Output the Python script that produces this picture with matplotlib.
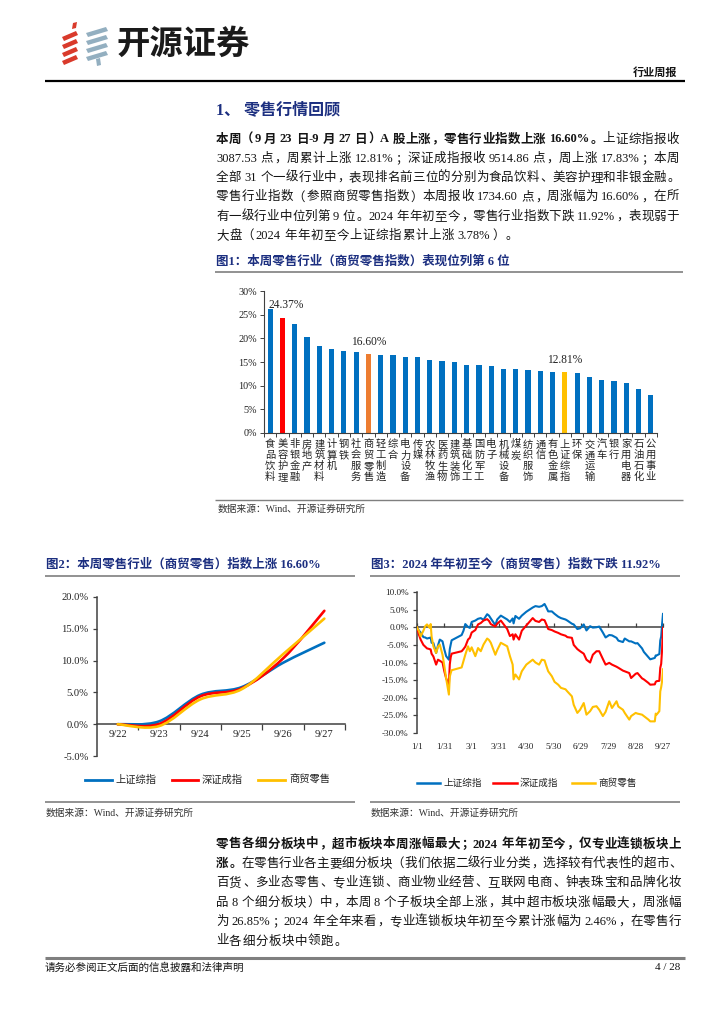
import matplotlib
matplotlib.use("Agg")
import matplotlib.pyplot as plt
from matplotlib.path import Path
from matplotlib.patches import PathPatch, Polygon
from matplotlib.lines import Line2D
import matplotlib.transforms as mtransforms
import numpy as np
import pandas as pd

# ---------------- data ----------------
cats1 = ['食品饮料', '美容护理', '非银金融', '房地产', '建筑材料', '计算机', '钢铁', '社会服务',
         '商贸零售', '轻工制造', '综合', '电力设备', '传媒', '农林牧渔', '医药生物', '建筑装饰',
         '基础化工', '国防军工', '电子', '机械设备', '煤炭', '纺织服饰', '通信', '有色金属',
         '上证综指', '环保', '交通运输', '汽车', '银行', '家用电器', '石油石化', '公用事业']
vals1 = [26.2, 24.37, 23.1, 20.2, 18.5, 17.8, 17.3, 17.2,
         16.60, 16.5, 16.4, 16.1, 16.0, 15.35, 15.3, 15.0,
         14.4, 14.3, 14.15, 13.6, 13.45, 13.4, 13.1, 12.95,
         12.81, 12.7, 11.8, 11.1, 11.0, 10.5, 9.3, 8.0]
highlight1 = {'美容护理': '#FF0000', '商贸零售': '#ED7D31', '上证综指': '#FFC000'}
labelled1 = ['美容护理', '商贸零售', '上证综指']

days2 = ['9/22', '9/23', '9/24', '9/25', '9/26', '9/27']
sh2 = [0.0, 0.44, 4.62, 5.83, 9.65, 12.81]
sz2 = [0.0, 0.02, 4.38, 5.64, 10.33, 17.83]
re2 = [0.0, -0.30, 3.90, 5.50, 11.00, 16.60]

dates3 = ['01-01', '01-03', '01-05', '01-08', '01-10', '01-12', '01-15', '01-16', '01-17', '01-19',
          '01-22', '01-24', '01-26', '01-29', '01-31', '02-02', '02-05', '02-06', '02-07', '02-08',
          '02-19', '02-21', '02-23', '02-26', '02-28', '03-01', '03-05', '03-08', '03-11', '03-14',
          '03-18', '03-20', '03-22', '03-27', '03-29', '04-02', '04-09', '04-12', '04-15', '04-16',
          '04-18', '04-22', '04-25', '04-30', '05-07', '05-10', '05-14', '05-17', '05-20', '05-22',
          '05-24', '05-28', '05-31', '06-04', '06-07', '06-12', '06-14', '06-19', '06-21', '06-25',
          '06-28', '07-02', '07-05', '07-09', '07-12', '07-16', '07-19', '07-23', '07-26', '07-30',
          '08-02', '08-07', '08-09', '08-14', '08-16', '08-21', '08-23', '08-28', '08-30', '09-04',
          '09-06', '09-11', '09-13', '09-18', '09-19', '09-20', '09-23', '09-24', '09-25', '09-26',
          '09-27']
sh3 = [0.0, -0.9, -1.5, -2.8, -2.9, -3.2, -3.0, -2.9, -4.4, -4.5,
       -7.3, -5.2, -3.5, -4.0, -6.3, -8.2, -9.2, -6.2, -4.9, -3.7,
       -2.2, -1.0, 0.9, 0.1, -0.2, 1.5, 1.9, 2.4, 2.6, 2.1,
       3.7, 3.3, 2.5, 0.6, 2.2, 3.3, 2.2, 1.5, 2.5, 1.1,
       3.2, 2.4, 3.3, 4.4, 5.6, 6.0, 5.8, 6.0, 6.6, 5.6,
       4.5, 4.5, 3.8, 3.0, 2.6, 2.2, 1.9, 1.0, 0.8, -0.5,
       -0.3, 0.8, -0.9, 0.3, -0.1, 0.0, 0.2, -1.5, -2.9, -2.2,
       -2.3, -3.0, -3.8, -4.2, -3.2, -4.0, -4.0, -4.6, -4.5, -6.0,
       -7.0, -8.5, -9.1, -8.7, -8.0, -8.0, -7.6, -3.75, -2.65, 0.87,
       3.78]
sz3 = [0.0, -2.0, -3.5, -5.0, -5.5, -6.0, -6.2, -6.3, -7.5, -8.3,
       -10.6, -9.2, -9.5, -10.0, -12.5, -14.5, -16.3, -10.5, -8.5, -7.5,
       -6.8, -6.2, -5.5, -3.5, -3.0, -1.5, -0.8, 0.8, 1.2, 1.9,
       2.3, 1.8, 0.9, 0.2, 1.0, 1.9, -0.5, -2.5, -2.0, -3.5,
       -2.0, -3.5, -1.0, 0.5, 2.6, 1.8, 1.5, 2.2, 2.0, 0.8,
       -0.5, -0.8, -1.2, -1.6, -2.0, -2.4, -2.8, -3.0, -5.0, -6.2,
       -6.8, -7.5, -9.2, -10.0, -7.8, -6.8, -6.8, -9.0, -10.6, -10.1,
       -10.6, -11.2, -11.5, -12.3, -12.5, -13.0, -14.4, -13.2, -13.0, -14.5,
       -14.8, -15.8, -16.3, -16.2, -15.5, -15.3, -15.2, -11.5, -10.4, -6.4,
       -0.1]
re3 = [0.0, -1.0, -2.6, -1.0, 0.3, 0.8, -0.2, 0.9, -2.6, -5.4,
       -7.3, -5.5, -4.9, -7.8, -11.0, -14.5, -19.1, -14.0, -13.0, -12.2,
       -11.4, -9.6, -7.8, -5.4, -6.8, -5.7, -8.2, -5.9, -6.8, -4.9,
       -3.2, -3.6, -4.4, -7.8, -6.5, -4.4, -5.4, -8.2, -10.6, -14.8,
       -13.4, -14.8, -12.5, -10.6, -9.2, -10.0, -10.6, -9.2, -9.4, -11.0,
       -12.5, -13.9, -15.5, -16.3, -17.2, -17.6, -18.2, -19.6, -22.0, -24.3,
       -23.4, -21.5, -24.8, -23.8, -22.6, -22.4, -23.4, -25.2, -24.0, -21.0,
       -22.9, -21.0, -22.5, -23.4, -24.3, -26.2, -25.2, -24.3, -24.5, -24.8,
       -25.2, -26.2, -26.7, -26.7, -24.5, -24.8, -23.8, -18.2, -17.0, -15.3,
       -11.92]
series_names = ['上证综指', '深证成指', '商贸零售']
series_colors = ['#0070C0', '#FF0000', '#FFC000']

# ---------------- page setup ----------------
W, H = 724, 1024
plt.rcParams['font.family'] = ['Liberation Serif', 'Noto Sans CJK SC']
fig = plt.figure(figsize=(7.24, 10.24), dpi=100)
renderer = fig.canvas.get_renderer()
SERIF = ['Liberation Serif', 'Noto Sans CJK SC']
CJKF = ['Noto Sans CJK SC', 'Liberation Serif']
NAVY = '#1c2f80'
TXT = '#141414'


def fx(x):
    return x / W


def fy(y):
    return 1 - y / H


def ax_px(l, t, r, b):
    return fig.add_axes([l / W, 1 - b / H, (r - l) / W, (b - t) / H])


def hline(x0, x1, y, lw, color):
    fig.add_artist(Line2D([fx(x0), fx(x1)], [fy(y), fy(y)], transform=fig.transFigure,
                          lw=lw, color=color, solid_capstyle='butt'))


def ftext(x, y, s, **kw):
    return fig.text(fx(x), fy(y), s, **kw)


def tokenize(s):
    toks, buf, buf_sp, sp = [], '', False, False
    for ch in s:
        if ch == ' ':
            if buf:
                toks.append((buf, buf_sp))
                buf = ''
            sp = True
        elif ord(ch) >= 0x2E80:
            if buf:
                toks.append((buf, buf_sp))
                buf = ''
            toks.append((ch, sp))
            sp = False
        else:
            if not buf:
                buf_sp = sp
                sp = False
            buf += ch
    if buf:
        toks.append((buf, buf_sp))
    return toks


def latin_width(s, size, weight):
    t = fig.text(0, 0, s, fontsize=size, family=SERIF, weight=weight)
    w = t.get_window_extent(renderer).width
    t.remove()
    return w + 0.6


LEFT_P = set('，。、；：）」！？')
RIGHT_P = set('（「')


def draw_line(segs, y, x0, x1, size=9, justify=True, color=TXT):
    em = size * 100 / 72
    items = []
    for text, bold in segs:
        for tok, sp in tokenize(text):
            cjk = ord(tok[0]) >= 0x2E80
            w = em if cjk else latin_width(tok, size, 'bold' if bold else 'normal')
            items.append((tok, sp, cjk, bold, w))
    spw = 0.22 * em
    total = sum(it[4] for it in items) + spw * sum(1 for k, it in enumerate(items) if it[1] and k > 0)
    n = len(items)
    gap = (x1 - x0 - total) / (n - 1) if (justify and n > 1) else 0.6
    x = x0
    base = y + 0.36 * em
    for k, (tok, sp, cjk, bold, w) in enumerate(items):
        if sp and k > 0:
            x += spw
        wt = 'bold' if bold else 'normal'
        if cjk:
            if tok in LEFT_P:
                ftext(x + 0.08 * em, base, tok, fontsize=size, family=CJKF, weight=wt,
                      ha='left', va='baseline', color=color)
            elif tok in RIGHT_P:
                ftext(x + 0.92 * em, base, tok, fontsize=size, family=CJKF, weight=wt,
                      ha='right', va='baseline', color=color)
            else:
                ftext(x + 0.5 * em, base, tok, fontsize=size, family=CJKF, weight=wt,
                      ha='center', va='baseline', color=color)
        else:
            ftext(x, base, tok, fontsize=size, family=SERIF, weight=wt,
                  ha='left', va='baseline', color=color)
        x += w + gap


# ---------------- logo & header ----------------
def poly(pts, color):
    fig.add_artist(Polygon([(fx(a), fy(b)) for a, b in pts], closed=True,
                           transform=fig.transFigure, color=color, lw=0))


red = '#D93A2B'
grey = '#93AFC0'
poly([(73, 23), (77, 22), (76, 28), (72, 29)], red)
for yc in [34, 42, 50, 58]:
    poly([(62, yc + 3), (76, yc - 3), (78, yc + 1), (64, yc + 7)], red)
for yc in [30, 38, 46, 54]:
    poly([(86, yc + 3), (106, yc - 3), (108, yc + 1), (88, yc + 7)], grey)
poly([(96, 59), (100, 58), (101, 65), (97, 66)], grey)
ftext(117, 44, '开源证券', fontsize=24, family=CJKF, weight='bold', color='#1a1a1a',
      ha='left', va='center')
ftext(677, 72, '行业周报', fontsize=8, family=CJKF, weight='bold', color=TXT,
      ha='right', va='center')
hline(45, 685, 80.5, 1.6, '#000000')

# ---------------- section text ----------------
ftext(216, 110, '1、 零售行情回顾', fontsize=11.5, family=SERIF, weight='bold', color=NAVY,
      ha='left', va='center')

para1 = [
    [('本周（9 月 23 日-9 月 27 日）A 股上涨，零售行业指数上涨 16.60%。', True), ('上证综指报收', False)],
    [('3087.53 点，周累计上涨 12.81%；深证成指报收 9514.86 点，周上涨 17.83%；本周', False)],
    [('全部 31 个一级行业中，表现排名前三位的分别为食品饮料、美容护理和非银金融。', False)],
    [('零售行业指数（参照商贸零售指数）本周报收 1734.60 点，周涨幅为 16.60%，在所', False)],
    [('有一级行业中位列第 9 位。2024 年年初至今，零售行业指数下跌 11.92%，表现弱于', False)],
    [('大盘（2024 年年初至今上证综指累计上涨 3.78%）。', False)],
]
for k, segs in enumerate(para1):
    draw_line(segs, 138 + k * 19.3, 216, 679, justify=(k < len(para1) - 1))

ftext(216, 262, '图1：本周零售行业（商贸零售指数）表现位列第 6 位', fontsize=9, family=SERIF,
      weight='bold', color=NAVY, ha='left', va='center')
hline(215, 683, 272, 1.2, '#7f7f7f')

# ---------------- chart 1 ----------------
ax1 = ax_px(264, 291.3, 657, 432.7)
x1 = np.arange(len(cats1))
cols1 = [highlight1.get(c, '#0070C0') for c in cats1]
ax1.bar(x1, vals1, width=0.42, color=cols1, zorder=2)
ax1.set_xlim(-0.5, len(cats1) - 0.5)
ax1.set_ylim(0, 30)
ax1.set_yticks(np.arange(0, 31, 5))
ax1.set_yticklabels([f'{v}%' for v in range(0, 31, 5)])
ax1.set_xticks([])
ax1.set_xticks(np.arange(-0.5, len(cats1)), minor=True)
ax1.tick_params(axis='x', which='minor', length=3, width=0.7, color='#404040', direction='out')
ax1.tick_params(axis='y', length=3, width=0.7, color='#404040', labelsize=7.3, pad=2,
                labelcolor='#222222')
for s in ['top', 'right']:
    ax1.spines[s].set_visible(False)
for s in ['left', 'bottom']:
    ax1.spines[s].set_color('#404040')
    ax1.spines[s].set_linewidth(0.8)
tr1 = mtransforms.blended_transform_factory(ax1.transData, fig.transFigure)
for i, name in enumerate(cats1):
    for j, ch in enumerate(name):
        ax1.text(i, fy(444.5 + j * 10.9), ch, transform=tr1, fontsize=7.4, family=CJKF,
                 ha='center', va='center', color='#222222')
for name in labelled1:
    i = cats1.index(name)
    dx = 3 if i == 1 else 0
    ax1.annotate(f'{vals1[i]:.2f}%', xy=(i, vals1[i]), xytext=(dx, 9), textcoords='offset points',
                 ha='center', va='center', fontsize=8.3, family=SERIF, color='#222222',
                 annotation_clip=False)

hline(215, 683, 499.5, 1.0, '#7f7f7f')
ftext(218, 509, '数据来源：Wind、开源证券研究所', fontsize=7, family=SERIF, color='#333333',
      ha='left', va='center')

# ---------------- chart 2 ----------------
ftext(46, 565, '图2：本周零售行业（商贸零售）指数上涨 16.60%', fontsize=9, family=SERIF,
      weight='bold', color=NAVY, ha='left', va='center')
hline(45, 355, 575.5, 1.2, '#7f7f7f')
ftext(371, 565, '图3：2024 年年初至今（商贸零售）指数下跌 11.92%', fontsize=9, family=SERIF,
      weight='bold', color=NAVY, ha='left', va='center')
hline(370, 680, 575.5, 1.2, '#7f7f7f')


def smooth_path(xs, ys):
    pts = np.column_stack([xs, ys]).astype(float)
    n = len(pts)
    verts = [pts[0]]
    codes = [Path.MOVETO]
    for i in range(n - 1):
        p0 = pts[i - 1] if i > 0 else pts[i]
        p1, p2 = pts[i], pts[i + 1]
        p3 = pts[i + 2] if i + 2 < n else pts[i + 1]
        verts += [p1 + (p2 - p0) / 6, p2 - (p3 - p1) / 6, p2]
        codes += [Path.CURVE4] * 3
    return Path(verts, codes)


ax2 = ax_px(97, 597, 345, 756)
xi2 = np.arange(len(days2))
for vals, col in zip([sh2, sz2, re2], series_colors):
    ax2.add_patch(PathPatch(smooth_path(xi2, vals), fill=False, edgecolor=col, lw=1.9,
                            capstyle='round', joinstyle='round', zorder=3))
ax2.set_xlim(-0.5, len(days2) - 0.5)
ax2.set_ylim(-5, 20)
ax2.set_yticks(np.arange(-5, 21, 5))
ax2.set_yticklabels([f'{v:.1f}%' for v in np.arange(-5, 21, 5)])
ax2.set_xticks(xi2)
ax2.set_xticklabels(days2)
ax2.set_xticks(np.arange(0.5, len(days2)), minor=True)
ax2.spines['bottom'].set_position(('data', 0))
for s in ['top', 'right']:
    ax2.spines[s].set_visible(False)
for s in ['left', 'bottom']:
    ax2.spines[s].set_color('#404040')
    ax2.spines[s].set_linewidth(1.1)
ax2.tick_params(axis='x', which='major', length=0, labelsize=7.6, pad=4, labelcolor='#222222')
ax2.tick_params(axis='x', which='minor', length=4, width=0.9, color='#404040', direction='out')
ax2.tick_params(axis='y', length=3, width=0.9, color='#404040', labelsize=7.6, pad=3,
                labelcolor='#222222')

# legend 2
leg2 = [(85, 112, 115), (172, 198, 202), (258, 285, 289)]
for (a, b, t), nm, col in zip(leg2, series_names, series_colors):
    fig.add_artist(Line2D([fx(a), fx(b)], [fy(780), fy(780)], transform=fig.transFigure,
                          lw=2.0, color=col))
    ftext(t, 780, nm, fontsize=7.4, family=CJKF, color='#222222', ha='left', va='center')

# ---------------- chart 3 ----------------
ax3 = ax_px(417, 592, 663, 733)
start = pd.Timestamp('2024-01-01')
d3 = pd.to_datetime(['2024-' + d for d in dates3])
xd3 = np.array([(d - start).days for d in d3])
for vals, col in zip([sh3, sz3, re3], series_colors):
    ax3.plot(xd3, vals, color=col, lw=1.5, zorder=3, solid_joinstyle='round')
ax3.set_xlim(0, 270)
ax3.set_ylim(-30, 10)
ax3.set_yticks(np.arange(-30, 11, 5))
ax3.set_yticklabels([f'{v:.1f}%' for v in np.arange(-30, 11, 5)])
ticks3 = np.arange(0, 271, 30)
ax3.set_xticks(ticks3)
ax3.spines['bottom'].set_position(('data', 0))
ax3.tick_params(axis='x', length=3, width=0.9, direction='in', color='#404040',
                labelbottom=False)
for s in ['top', 'right']:
    ax3.spines[s].set_visible(False)
for s in ['left', 'bottom']:
    ax3.spines[s].set_color('#404040')
    ax3.spines[s].set_linewidth(1.1)
ax3.tick_params(axis='y', length=3, width=0.9, color='#404040', labelsize=6.6, pad=3,
                labelcolor='#222222')
sec = ax3.secondary_xaxis('bottom')
sec.set_xticks(ticks3)
sec.set_xticklabels([f'{(start + pd.Timedelta(days=int(t))).month}/{(start + pd.Timedelta(days=int(t))).day}'
                     for t in ticks3])
sec.tick_params(length=0, labelsize=6.6, pad=7, labelcolor='#222222')
sec.spines['bottom'].set_visible(False)

leg3 = [(417, 440, 443), (493, 517, 520), (572, 595, 598)]
for (a, b, t), nm, col in zip(leg3, series_names, series_colors):
    fig.add_artist(Line2D([fx(a), fx(b)], [fy(783), fy(783)], transform=fig.transFigure,
                          lw=1.8, color=col))
    ftext(t, 783, nm, fontsize=6.9, family=CJKF, color='#222222', ha='left', va='center')

hline(45, 355, 801.5, 1.2, '#7f7f7f')
hline(370, 680, 801.5, 1.2, '#7f7f7f')
ftext(46, 813, '数据来源：Wind、开源证券研究所', fontsize=7, family=SERIF, color='#333333',
      ha='left', va='center')
ftext(371, 813, '数据来源：Wind、开源证券研究所', fontsize=7, family=SERIF, color='#333333',
      ha='left', va='center')

# ---------------- bottom paragraph ----------------
para2 = [
    [('零售各细分板块中，超市板块本周涨幅最大；2024 年年初至今，仅专业连锁板块上', True)],
    [('涨。', True), ('在零售行业各主要细分板块（我们依据二级行业分类，选择较有代表性的超市、', False)],
    [('百货、多业态零售、专业连锁、商业物业经营、互联网电商、钟表珠宝和品牌化妆', False)],
    [('品 8 个细分板块）中，本周 8 个子板块全部上涨，其中超市板块涨幅最大，周涨幅', False)],
    [('为 26.85%；2024 年全年来看，专业连锁板块年初至今累计涨幅为 2.46%，在零售行', False)],
    [('业各细分板块中领跑。', False)],
]
for k, segs in enumerate(para2):
    draw_line(segs, 843 + k * 19.4, 216, 681, justify=(k < len(para2) - 1))

hline(45, 685, 958, 2.2, '#7f7f7f')
ftext(45, 968, '请务必参阅正文后面的信息披露和法律声明', fontsize=7.6, family=CJKF, color=TXT,
      ha='left', va='center')
ftext(680, 968, '4 / 28', fontsize=8, family=SERIF, color=TXT, ha='right', va='center')

fig.savefig('out.png', dpi=100)
